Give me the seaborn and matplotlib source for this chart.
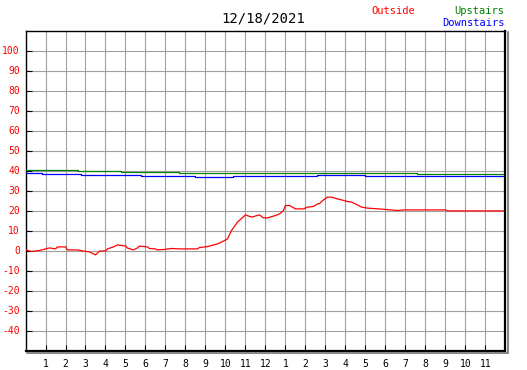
import matplotlib
matplotlib.use('Agg')
import matplotlib.pyplot as plt
import seaborn as sns
from matplotlib.lines import Line2D

# outside temperature (hour of day, degrees)
out_hours = [0.0, 0.3, 0.7, 1.0, 1.2, 1.5, 1.6, 2.0, 2.1, 2.6, 2.9, 3.2, 3.5,
             3.7, 4.0, 4.1, 4.4, 4.6, 4.8, 5.0, 5.1, 5.4, 5.6, 5.7, 6.1, 6.2,
             6.5, 6.6, 6.9, 7.3, 7.7, 8.6, 8.7, 9.0, 9.2, 9.6, 9.8, 10.1, 10.3,
             10.6, 11.0, 11.3, 11.7, 11.9, 12.1, 12.5, 12.7, 12.9, 13.0, 13.2,
             13.5, 13.9, 14.1, 14.4, 14.6, 14.7, 14.9, 15.1, 15.3, 15.6, 15.8,
             16.1, 16.3, 16.6, 16.8, 17.1, 17.8, 18.6, 18.9, 21.0, 21.05, 23.9]
out_temp = [0.3, -0.5, 0.0, 0.8, 1.3, 0.8, 1.8, 1.8, 0.3, 0.3, -0.3, -0.7, -2.2,
            -0.3, -0.2, 0.8, 1.8, 2.8, 2.5, 2.3, 1.2, 0.3, 1.3, 2.2, 1.8, 1.0,
            0.8, 0.3, 0.5, 1.0, 0.8, 0.8, 1.5, 1.8, 2.2, 3.3, 4.2, 5.8, 10.0,
            14.2, 17.8, 16.7, 17.8, 16.3, 16.3, 17.5, 18.3, 20.0, 22.5, 22.5,
            20.8, 20.8, 21.7, 22.0, 23.3, 23.5, 25.3, 26.7, 26.7, 25.8, 25.3,
            24.5, 24.2, 22.8, 21.7, 21.2, 20.7, 20.0, 20.3, 20.3, 19.8, 19.8]

# upstairs temperature (step series)
up_hours = [0.0, 2.6, 4.8, 7.7, 19.6, 23.9]
up_temp = [40.2, 39.7, 39.2, 38.7, 38.2, 38.2]

# downstairs temperature (step series)
down_hours = [0.0, 0.8, 2.8, 5.8, 8.5, 10.4, 14.6, 17.0, 23.9]
down_temp = [39.0, 38.4, 37.9, 37.5, 37.0, 37.5, 38.0, 37.5, 37.5]

xtick_pos = list(range(1, 24))
xtick_labels = [str(h) for h in range(1, 12)] + ['12'] + [str(h) for h in range(1, 12)]
ytick_pos = list(range(-40, 101, 10))

title = '12/18/2021'

sns.set_style('white')
plt.rcParams['font.family'] = ['DejaVu Sans Mono', 'DejaVu Sans']

W, H = 527, 370
fig = plt.figure(figsize=(W / 100, H / 100), dpi=100)
ax = fig.add_axes([25.5 / W, (H - 350.5) / H, 480 / W, 320 / H])

lw = 0.9
sns.lineplot(x=up_hours, y=up_temp, ax=ax, color='#008000', lw=lw,
             drawstyle='steps-post', zorder=3)
sns.lineplot(x=down_hours, y=down_temp, ax=ax, color='#0000ff', lw=lw,
             drawstyle='steps-post', zorder=3)
sns.lineplot(x=out_hours, y=out_temp, ax=ax, color='#ff0000', lw=lw, zorder=4)

ax.set_xlim(0, 24)
ax.set_ylim(-50, 110)
ax.set_xticks(xtick_pos)
ax.set_xticklabels(xtick_labels)
ax.set_yticks(ytick_pos)
ax.set_yticklabels([str(v) for v in ytick_pos])
ax.grid(True, color='#a0a0a0', lw=0.8)
ax.set_axisbelow(True)
ax.tick_params(direction='in', length=4, width=0.8, color='black',
               labelsize=7, pad=4)
ax.tick_params(axis='y', labelcolor='#ff0000', left=True)
ax.tick_params(axis='x', labelcolor='black', bottom=True, pad=6)

for side in ['top', 'left']:
    ax.spines[side].set_color('black')
    ax.spines[side].set_linewidth(1.0)
for side in ['right', 'bottom']:
    ax.spines[side].set_color('black')
    ax.spines[side].set_linewidth(1.6)

# drop shadow on the right and bottom edges
x0, x1 = 25.5 / W, 507.5 / W
y0, y1 = (H - 352.5) / H, (H - 32) / H
fig.add_artist(Line2D([x1, x1], [y0, y1], color='#888888', lw=1.5,
                      transform=fig.transFigure))
fig.add_artist(Line2D([x0 + 2 / W, x1], [y0, y0], color='#888888', lw=1.5,
                      transform=fig.transFigure))

fig.text(263.5 / W, 1 - 19 / H, title, ha='center', va='center', fontsize=10,
         color='black')
fig.text(393 / W, 1 - 11 / H, 'Outside', ha='center', va='center', fontsize=7.5,
         color='#ff0000')
fig.text(504.5 / W, 1 - 11 / H, 'Upstairs', ha='right', va='center',
         fontsize=7.5, color='#008000')
fig.text(504.5 / W, 1 - 23 / H, 'Downstairs', ha='right', va='center',
         fontsize=7.5, color='#0000ff')

fig.savefig('out.png', dpi=100, facecolor='white')
